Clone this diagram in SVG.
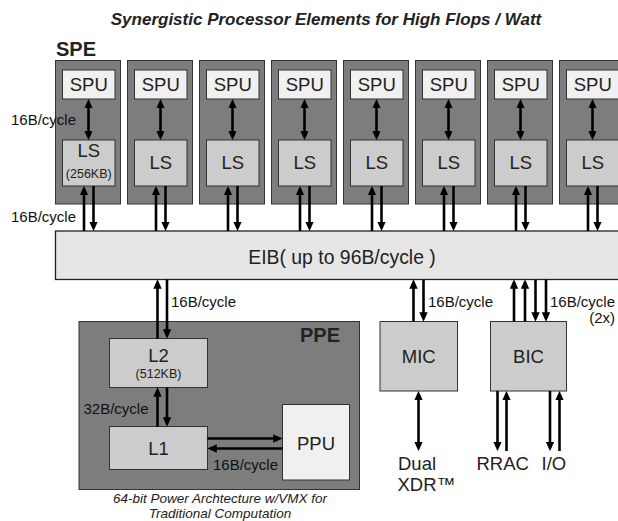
<svg xmlns="http://www.w3.org/2000/svg" width="618" height="521" viewBox="0 0 618 521">
<defs>
<style>
.t{font-family:"Liberation Sans",Arial,sans-serif;fill:#222}
.box{font-size:18.5px;text-anchor:middle}
.sm{font-size:12.5px;text-anchor:middle}
.lbl{font-size:15px;fill:#111}
.col{fill:#7d7d7d;stroke:#333;stroke-width:1}
.lt{fill:#f0f0f0;stroke:#333;stroke-width:1}
.md{fill:#cccccc;stroke:#333;stroke-width:1}
.c line{stroke:#000;stroke-width:2.6;fill:none}
.e{marker-end:url(#ah)}
.d{marker-start:url(#ah);marker-end:url(#ah)}
</style>
<marker id="ah" viewBox="0 0 9 8" refX="6" refY="4" markerWidth="9.5" markerHeight="8.5" markerUnits="userSpaceOnUse" orient="auto-start-reverse">
<path d="M0,0 L9,4 L0,8 z" fill="#000"/>
</marker>
</defs>
<rect width="618" height="521" fill="#fff"/>
<text class="t" x="326" y="25" font-size="17" font-weight="bold" font-style="italic" text-anchor="middle">Synergistic Processor Elements for High Flops / Watt</text>
<text class="t" x="56" y="56" font-size="20" font-weight="bold">SPE</text>

<g id="spe1"><rect class="col" x="55.5" y="60.5" width="65" height="143.5"/><rect class="lt" x="62.5" y="70" width="52.5" height="29"/><text class="t box" x="88.75" y="90.5">SPU</text><rect class="md" x="62.5" y="140" width="52.5" height="46"/><text class="t box" x="88.75" y="156.5">LS</text><text class="t sm" x="88.75" y="178">(256KB)</text></g>
<g id="spe2"><rect class="col" x="127.5" y="60.5" width="65" height="143.5"/><rect class="lt" x="134.5" y="70" width="52.5" height="29"/><text class="t box" x="160.75" y="90.5">SPU</text><rect class="md" x="134.5" y="140" width="52.5" height="46"/><text class="t box" x="160.75" y="168.5">LS</text></g>
<g id="spe3"><rect class="col" x="199.5" y="60.5" width="65" height="143.5"/><rect class="lt" x="206.5" y="70" width="52.5" height="29"/><text class="t box" x="232.75" y="90.5">SPU</text><rect class="md" x="206.5" y="140" width="52.5" height="46"/><text class="t box" x="232.75" y="168.5">LS</text></g>
<g id="spe4"><rect class="col" x="271.5" y="60.5" width="65" height="143.5"/><rect class="lt" x="278.5" y="70" width="52.5" height="29"/><text class="t box" x="304.75" y="90.5">SPU</text><rect class="md" x="278.5" y="140" width="52.5" height="46"/><text class="t box" x="304.75" y="168.5">LS</text></g>
<g id="spe5"><rect class="col" x="343.5" y="60.5" width="65" height="143.5"/><rect class="lt" x="350.5" y="70" width="52.5" height="29"/><text class="t box" x="376.75" y="90.5">SPU</text><rect class="md" x="350.5" y="140" width="52.5" height="46"/><text class="t box" x="376.75" y="168.5">LS</text></g>
<g id="spe6"><rect class="col" x="415.5" y="60.5" width="65" height="143.5"/><rect class="lt" x="422.5" y="70" width="52.5" height="29"/><text class="t box" x="448.75" y="90.5">SPU</text><rect class="md" x="422.5" y="140" width="52.5" height="46"/><text class="t box" x="448.75" y="168.5">LS</text></g>
<g id="spe7"><rect class="col" x="487.5" y="60.5" width="65" height="143.5"/><rect class="lt" x="494.5" y="70" width="52.5" height="29"/><text class="t box" x="520.75" y="90.5">SPU</text><rect class="md" x="494.5" y="140" width="52.5" height="46"/><text class="t box" x="520.75" y="168.5">LS</text></g>
<g id="spe8"><rect class="col" x="559.5" y="60.5" width="65" height="143.5"/><rect class="lt" x="566.5" y="70" width="52.5" height="29"/><text class="t box" x="592.75" y="90.5">SPU</text><rect class="md" x="566.5" y="140" width="52.5" height="46"/><text class="t box" x="592.75" y="168.5">LS</text></g>

<g id="eib"><rect x="55.5" y="231" width="570" height="48.5" fill="#e6e6e6" stroke="#222" stroke-width="1.3"/><text class="t" x="342" y="263.5" font-size="19.4" text-anchor="middle">EIB( up to 96B/cycle )</text></g>

<g id="ppe"><rect class="col" x="79" y="321.5" width="280.5" height="168"/><text class="t" x="340" y="342" font-size="20" font-weight="bold" text-anchor="end">PPE</text></g>
<g id="l2"><rect class="md" x="109.5" y="338.5" width="98" height="49"/><text class="t box" x="158.5" y="361.5">L2</text><text class="t sm" x="158.5" y="378">(512KB)</text></g>
<g id="l1"><rect class="md" x="109.5" y="426.5" width="98" height="43"/><text class="t box" x="158.5" y="455">L1</text></g>
<g id="ppu"><rect class="lt" x="282.5" y="404.5" width="67" height="75.5"/><text class="t box" x="316" y="450">PPU</text></g>
<g id="mic"><rect class="md" x="380" y="321.5" width="77.5" height="69.5"/><text class="t box" x="418.75" y="362.5">MIC</text></g>
<g id="bic"><rect class="md" x="490.5" y="321.5" width="76" height="69.5"/><text class="t box" x="528.5" y="362.5">BIC</text></g>
<g id="xdr"><text class="t" x="398" y="470" font-size="18.5">Dual</text><text class="t" x="397.5" y="491" font-size="18.5">XDR™</text></g>
<g id="rrac"><text class="t" x="476.5" y="470" font-size="18.5">RRAC</text></g>
<g id="io"><text class="t" x="541.5" y="470" font-size="18.5">I/O</text></g>

<g id="connectors" class="c">
<line class="d" x1="88.5" y1="102" x2="88.5" y2="137"/>
<line class="d" x1="160.5" y1="102" x2="160.5" y2="137"/>
<line class="d" x1="232.5" y1="102" x2="232.5" y2="137"/>
<line class="d" x1="304.5" y1="102" x2="304.5" y2="137"/>
<line class="d" x1="376.5" y1="102" x2="376.5" y2="137"/>
<line class="d" x1="448.5" y1="102" x2="448.5" y2="137"/>
<line class="d" x1="520.5" y1="102" x2="520.5" y2="137"/>
<line class="d" x1="592.5" y1="102" x2="592.5" y2="137"/>

<line class="e" x1="84" y1="231" x2="84" y2="189"/><line class="e" x1="93.5" y1="186" x2="93.5" y2="228"/>
<line class="e" x1="156" y1="231" x2="156" y2="189"/><line class="e" x1="165.5" y1="186" x2="165.5" y2="228"/>
<line class="e" x1="228" y1="231" x2="228" y2="189"/><line class="e" x1="237.5" y1="186" x2="237.5" y2="228"/>
<line class="e" x1="300" y1="231" x2="300" y2="189"/><line class="e" x1="309.5" y1="186" x2="309.5" y2="228"/>
<line class="e" x1="372" y1="231" x2="372" y2="189"/><line class="e" x1="381.5" y1="186" x2="381.5" y2="228"/>
<line class="e" x1="444" y1="231" x2="444" y2="189"/><line class="e" x1="453.5" y1="186" x2="453.5" y2="228"/>
<line class="e" x1="516" y1="231" x2="516" y2="189"/><line class="e" x1="525.5" y1="186" x2="525.5" y2="228"/>
<line class="e" x1="588" y1="231" x2="588" y2="189"/><line class="e" x1="597.5" y1="186" x2="597.5" y2="228"/>

<line class="e" x1="157.5" y1="338.5" x2="157.5" y2="282.5"/><line class="e" x1="167" y1="279.5" x2="167" y2="335.5"/>
<line class="e" x1="157.5" y1="426.5" x2="157.5" y2="390.5"/><line class="e" x1="167" y1="387.5" x2="167" y2="423.5"/>
<line class="e" x1="207.5" y1="438.5" x2="279.5" y2="438.5"/><line class="e" x1="282.5" y1="448.5" x2="210.5" y2="448.5"/>

<line class="e" x1="413.5" y1="321.5" x2="413.5" y2="282.5"/><line class="e" x1="423.5" y1="279.5" x2="423.5" y2="318.5"/>
<line class="e" x1="514" y1="321.5" x2="514" y2="282.5"/><line class="e" x1="525" y1="321.5" x2="525" y2="282.5"/>
<line class="e" x1="535.5" y1="279.5" x2="535.5" y2="318.5"/><line class="e" x1="546" y1="279.5" x2="546" y2="318.5"/>

<line class="d" x1="418.5" y1="394" x2="418.5" y2="448"/>
<line class="e" x1="497.5" y1="391" x2="497.5" y2="448"/><line class="e" x1="506.5" y1="451" x2="506.5" y2="394"/>
<line class="e" x1="550" y1="391" x2="550" y2="448"/><line class="e" x1="559.5" y1="451" x2="559.5" y2="394"/>
</g>

<g id="labels">
<text class="t lbl" x="11" y="124.5">16B/cycle</text>
<text class="t lbl" x="11" y="221.5">16B/cycle</text>
<text class="t lbl" x="171" y="306.5">16B/cycle</text>
<text class="t lbl" x="83.5" y="414">32B/cycle</text>
<text class="t lbl" x="213" y="470">16B/cycle</text>
<text class="t lbl" x="428" y="307">16B/cycle</text>
<text class="t lbl" x="550" y="307">16B/cycle</text>
<text class="t lbl" x="615" y="323" text-anchor="end">(2x)</text>
<text class="t" x="220" y="502.5" font-size="13.5" font-style="italic" text-anchor="middle">64-bit Power Archtecture w/VMX for</text>
<text class="t" x="220" y="517.8" font-size="13.5" font-style="italic" text-anchor="middle">Traditional Computation</text>
</g>
</svg>
